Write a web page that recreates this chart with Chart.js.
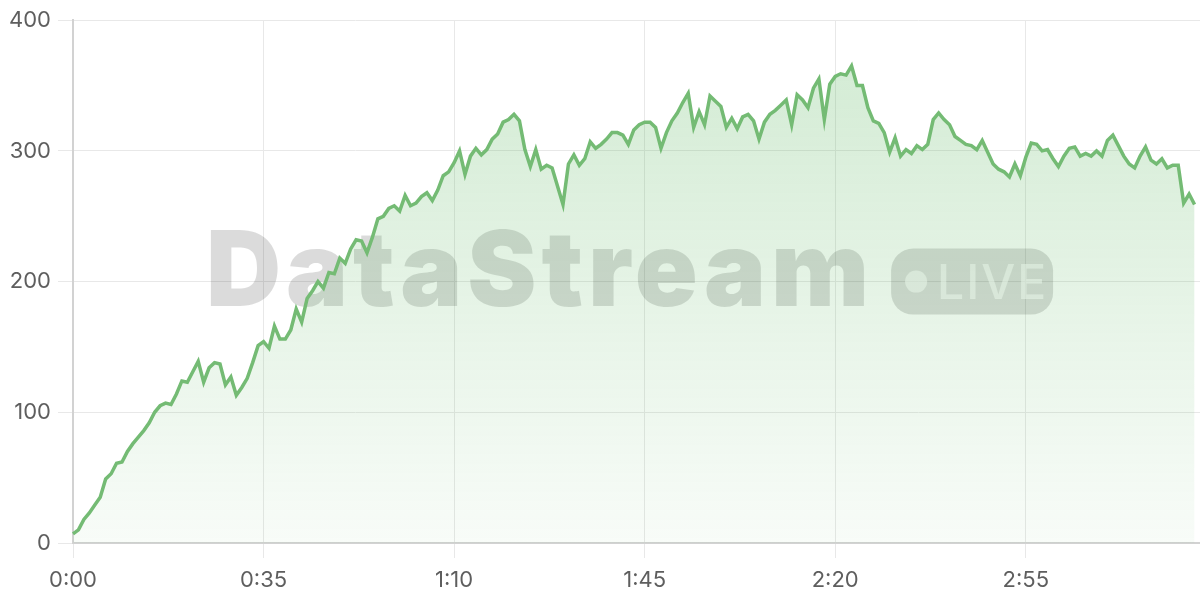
<!DOCTYPE html>
<html>
<head>
<meta charset="utf-8">
<title>DataStream live</title>
<script src="https://cdn.jsdelivr.net/npm/chart.js@4/dist/chart.umd.min.js"></script>
<style>
  html, body { margin: 0; padding: 0; background: #fff; }
  .wrap { width: 1200px; height: 600px; position: relative; }
</style>
</head>
<body>
<div class="wrap"><canvas id="streamChart"></canvas></div>
<script>
// one reading per second, 0:00 .. 3:26
const streamValues = [
  7, 10, 18, 23, 29, 35, 49, 53, 61, 62, 70, 76, 81, 86, 92, 100, 105, 107, 106, 114,
  124, 123, 131, 139, 123, 134, 138, 137, 121, 127, 113, 119, 126, 138, 151, 154, 149, 166, 156, 156,
  163, 179, 169, 187, 193, 200, 195, 207, 206, 218, 214, 225, 232, 231, 222, 234, 248, 250, 256, 258,
  254, 266, 258, 260, 265, 268, 262, 270, 281, 284, 291, 300, 282, 296, 302, 297, 301, 309, 313, 322,
  324, 328, 323, 301, 288, 301, 286, 289, 287, 273, 259, 290, 297, 289, 294, 307, 302, 305, 309, 314,
  314, 312, 305, 316, 320, 322, 322, 318, 302, 314, 323, 329, 337, 344, 318, 330, 320, 342, 338, 334,
  318, 325, 317, 326, 328, 323, 309, 322, 328, 331, 335, 339, 320, 343, 339, 333, 348, 355, 324, 351,
  357, 359, 358, 365, 350, 350, 333, 323, 321, 314, 299, 310, 296, 301, 298, 304, 301, 305, 324, 329,
  324, 320, 311, 308, 305, 304, 301, 308, 299, 290, 286, 284, 280, 290, 281, 295, 306, 305, 300, 301,
  294, 288, 296, 302, 303, 296, 298, 296, 300, 296, 308, 312, 304, 296, 290, 287, 296, 303, 293, 290,
  294, 287, 289, 289, 260, 267, 259
];
const axisSeconds = 208;          // axis runs a little past the last reading
const tickEvery = 35;
const timeTicks = ['0:00', '0:35', '1:10', '1:45', '2:20', '2:55'];
const yMax = 400;
const yStep = 100;

const categories = Array.from({ length: axisSeconds }, (_, i) => i);

const watermark = {
  id: 'watermark',
  beforeDatasetsDraw(chart) {
    const { ctx, chartArea } = chart;
    const cx = (chartArea.left + chartArea.right) / 2;
    const cy = (chartArea.top + chartArea.bottom) / 2;
    ctx.save();
    ctx.font = '900 104px Inter, "Noto Sans", sans-serif';
    ctx.letterSpacing = '5px';
    const word = 'DataStream';
    const wordW = ctx.measureText(word).width - 5;
    const pillW = 162, pillH = 66, gap = 22;
    const total = wordW + gap + pillW;
    const x0 = cx - total / 2 - 7;
    ctx.fillStyle = 'rgba(0, 0, 0, 0.14)';
    ctx.textBaseline = 'alphabetic';
    ctx.fillText(word, x0, cy + 24);

    const px = x0 + wordW + gap, py = cy - pillH / 2;
    ctx.beginPath();
    ctx.roundRect(px, py, pillW, pillH, 22);
    ctx.fill();

    ctx.letterSpacing = '2px';
    ctx.fillStyle = 'rgba(255, 255, 255, 0.6)';
    ctx.beginPath();
    ctx.arc(px + 25, cy, 11, 0, Math.PI * 2);
    ctx.fill();
    ctx.font = '500 48px Inter, "Noto Sans", sans-serif';
    ctx.fillText('LIVE', px + 46, cy + 17);
    ctx.restore();
  }
};

const tickFont = { size: 22, family: 'Inter, "Noto Sans", sans-serif' };

const ctx = document.getElementById('streamChart').getContext('2d');
new Chart(ctx, {
  type: 'line',
  data: {
    labels: categories,
    datasets: [{
      data: streamValues,
      borderColor: '#74bb74',
      borderWidth: 3.5,
      pointRadius: 0,
      tension: 0,
      fill: 'origin',
      backgroundColor: (context) => {
        const area = context.chart.chartArea;
        if (!area) return 'rgba(76, 175, 80, 0.15)';
        const g = context.chart.ctx.createLinearGradient(0, area.top, 0, area.bottom);
        g.addColorStop(0, 'rgba(76, 175, 80, 0.26)');
        g.addColorStop(1, 'rgba(76, 175, 80, 0.04)');
        return g;
      }
    }]
  },
  options: {
    responsive: true,
    maintainAspectRatio: false,
    animation: false,
    layout: { padding: { top: 19, right: 0, left: 0, bottom: 0 } },
    plugins: {
      legend: { display: false },
      tooltip: { enabled: false }
    },
    scales: {
      x: {
        grid: { color: '#e8e8e8', tickLength: 15 },
        border: { color: '#d2d2d2', width: 2 },
        afterFit(scale) { scale.height = 57; },
        ticks: {
          autoSkip: false,
          maxRotation: 0,
          minRotation: 0,
          padding: 9,
          color: '#5e5e5e',
          font: tickFont,
          callback: (value, index) => index % tickEvery === 0 ? timeTicks[index / tickEvery] : null
        }
      },
      y: {
        min: 0,
        max: yMax,
        grid: { color: '#e8e8e8', tickLength: 15 },
        border: { color: '#d2d2d2', width: 2 },
        afterFit(scale) { scale.width = 73; },
        ticks: {
          stepSize: yStep,
          padding: 7,
          color: '#5e5e5e',
          font: tickFont
        }
      }
    }
  },
  plugins: [watermark]
});
</script>
</body>
</html>
